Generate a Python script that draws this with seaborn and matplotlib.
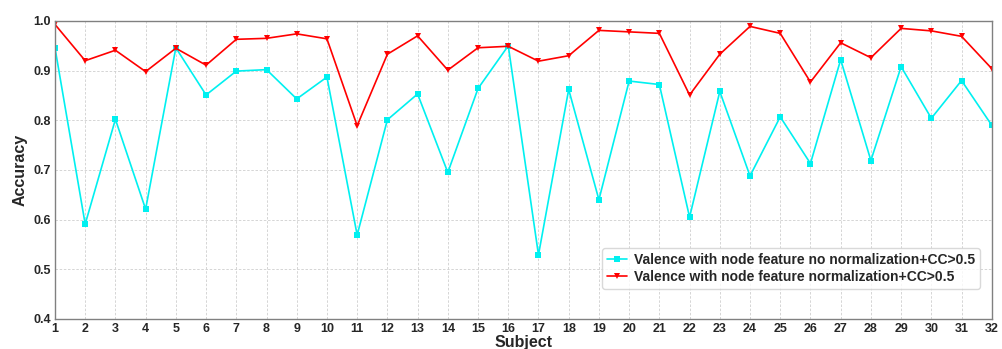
import matplotlib
matplotlib.use("Agg")
import matplotlib.pyplot as plt
import seaborn as sns
import pandas as pd
import numpy as np

subjects = list(range(1, 33))
no_norm = [0.946, 0.591, 0.802, 0.621, 0.946, 0.851, 0.899, 0.902, 0.843, 0.887,
           0.569, 0.801, 0.853, 0.695, 0.864, 0.950, 0.529, 0.862, 0.640, 0.879,
           0.872, 0.605, 0.858, 0.688, 0.807, 0.713, 0.922, 0.719, 0.908, 0.804,
           0.880, 0.790]
norm = [0.993, 0.920, 0.941, 0.898, 0.945, 0.911, 0.963, 0.965, 0.974, 0.964,
        0.789, 0.933, 0.970, 0.901, 0.946, 0.949, 0.919, 0.930, 0.981, 0.978,
        0.975, 0.851, 0.933, 0.989, 0.975, 0.877, 0.956, 0.926, 0.985, 0.980,
        0.969, 0.904]
label_a = "Valence with node feature no normalization+CC>0.5"
label_b = "Valence with node feature normalization+CC>0.5"

sns.set_style("white")
plt.rcParams['font.family'] = ['Liberation Sans', 'DejaVu Sans']

fig = plt.figure(figsize=(10.03, 3.49), dpi=100)
ax = fig.add_axes([0.0548, 0.086, 0.934, 0.854])

df_a = pd.DataFrame({"Subject": subjects, "Accuracy": no_norm})
df_b = pd.DataFrame({"Subject": subjects, "Accuracy": norm})
sns.lineplot(data=df_a, x="Subject", y="Accuracy", ax=ax, color="#00f0f0",
             marker="s", markersize=5, markeredgewidth=0, linewidth=1.2, label=label_a)
sns.lineplot(data=df_b, x="Subject", y="Accuracy", ax=ax, color="#ff0000",
             marker="v", markersize=5, markeredgewidth=0, linewidth=1.2, label=label_b)

ax.set_xlim(1, 32)
ax.set_ylim(0.4, 1.0)
ax.set_xticks(subjects)
ax.set_yticks(np.arange(0.4, 1.01, 0.1))
ax.set_yticklabels([f"{v:.1f}" for v in np.arange(0.4, 1.01, 0.1)])
ax.grid(True, linestyle=(0, (3, 2)), color="#cfcfcf", linewidth=0.6)
for s in ax.spines.values():
    s.set_color("#808080")
    s.set_linewidth(1.0)
ax.tick_params(axis="both", labelsize=9, length=0, pad=3)
for lbl in ax.get_xticklabels() + ax.get_yticklabels():
    lbl.set_fontweight("bold")
ax.set_xlabel("Subject", fontsize=11.5, fontweight="bold", labelpad=0)
ax.set_ylabel("Accuracy", fontsize=11.5, fontweight="bold", labelpad=4)

leg = ax.legend(loc="lower right", bbox_to_anchor=(0.987, 0.1),
                prop={"weight": "bold", "size": 10}, frameon=True,
                handlelength=1.4, handletextpad=0.5, borderpad=0.35, labelspacing=0.25,
                borderaxespad=0)
leg.get_frame().set_edgecolor("#d0d0d0")

fig.savefig("out.png", dpi=100)
